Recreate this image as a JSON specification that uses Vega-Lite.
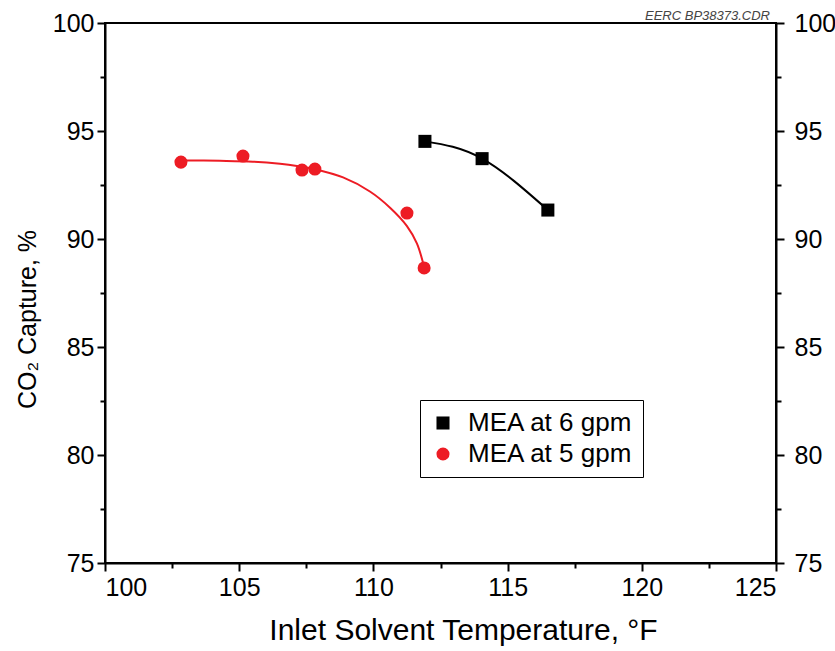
{
  "$schema": "https://vega.github.io/schema/vega-lite/v6.json",
  "autosize": {"type": "none"},
  "padding": {"left": 105, "top": 23, "right": 59, "bottom": 88},
  "width": 671,
  "height": 540,
  "background": "white",
  "title": {"text": "EERC BP38373.CDR", "anchor": "end", "frame": "group", "fontSize": 13, "fontStyle": "italic", "fontWeight": "normal", "font": "Liberation Sans", "color": "#444444", "offset": 3, "dx": -6, "dy": 15},
  "view": {"stroke": "black", "strokeWidth": 2},
  "config": {
    "font": "Liberation Sans",
    "axis": {"grid": false, "domainColor": "black", "domainWidth": 2, "tickColor": "black", "tickWidth": 2, "labelFont": "Liberation Sans", "labelFontSize": 25, "labelColor": "black", "titleFont": "Liberation Sans", "titleFontWeight": "normal", "titleColor": "black"},
    "legend": {"labelFont": "Liberation Sans", "labelFontSize": 26, "labelColor": "black", "labelLimit": 400}
  },
  "datasets": {
    "curves": [
      {"series": "MEA at 5 gpm", "temp": 102.83, "capture": 93.64},
      {"series": "MEA at 5 gpm", "temp": 104.28, "capture": 93.62},
      {"series": "MEA at 5 gpm", "temp": 105.51, "capture": 93.58},
      {"series": "MEA at 5 gpm", "temp": 106.52, "capture": 93.48},
      {"series": "MEA at 5 gpm", "temp": 107.15, "capture": 93.38},
      {"series": "MEA at 5 gpm", "temp": 107.82, "capture": 93.23},
      {"series": "MEA at 5 gpm", "temp": 108.87, "capture": 92.85},
      {"series": "MEA at 5 gpm", "temp": 109.87, "capture": 92.2},
      {"series": "MEA at 5 gpm", "temp": 110.62, "capture": 91.45},
      {"series": "MEA at 5 gpm", "temp": 111.25, "capture": 90.6},
      {"series": "MEA at 5 gpm", "temp": 111.62, "capture": 89.8},
      {"series": "MEA at 5 gpm", "temp": 111.89, "capture": 88.7},
      {"series": "MEA at 6 gpm", "temp": 111.92, "capture": 94.52},
      {"series": "MEA at 6 gpm", "temp": 114.05, "capture": 93.72},
      {"series": "MEA at 6 gpm", "temp": 116.5, "capture": 91.34}
    ],
    "points": [
      {"series": "MEA at 5 gpm", "temp": 102.83, "capture": 93.56},
      {"series": "MEA at 5 gpm", "temp": 105.14, "capture": 93.84},
      {"series": "MEA at 5 gpm", "temp": 107.34, "capture": 93.19},
      {"series": "MEA at 5 gpm", "temp": 107.82, "capture": 93.24},
      {"series": "MEA at 5 gpm", "temp": 111.25, "capture": 91.2},
      {"series": "MEA at 5 gpm", "temp": 111.89, "capture": 88.66},
      {"series": "MEA at 6 gpm", "temp": 111.92, "capture": 94.52},
      {"series": "MEA at 6 gpm", "temp": 114.05, "capture": 93.72},
      {"series": "MEA at 6 gpm", "temp": 116.5, "capture": 91.34}
    ]
  },
  "layer": [
    {
      "data": {"name": "curves"},
      "transform": [{"filter": "datum.series === 'MEA at 5 gpm'"}],
      "mark": {"type": "line", "color": "#ed1c24", "strokeWidth": 2, "interpolate": "catmull-rom"},
      "encoding": {
        "x": {"field": "temp", "type": "quantitative", "scale": {"domain": [100, 125], "nice": false, "zero": false},
          "axis": {"title": "Inlet Solvent Temperature, °F", "titleFontSize": 30, "titleX": 358, "values": [100, 102.5, 105, 107.5, 110, 112.5, 115, 117.5, 120, 122.5, 125], "format": "d", "labelExpr": "datum.value % 5 === 0 ? datum.label : ''", "tickSize": {"condition": {"test": "datum.value % 5 === 0", "value": 8}, "value": 5}, "labelPadding": 4, "titlePadding": 15}},
        "y": {"field": "capture", "type": "quantitative", "scale": {"domain": [75, 100], "nice": false, "zero": false},
          "axis": {"orient": "left", "title": "CO₂ Capture, %", "titleFontSize": 25, "titleY": 296, "values": [75, 77.5, 80, 82.5, 85, 87.5, 90, 92.5, 95, 97.5, 100], "format": "d", "labelExpr": "datum.value % 5 === 0 ? datum.label : ''", "tickSize": {"condition": {"test": "datum.value % 5 === 0", "value": 8}, "value": 5}, "labelPadding": 3, "titlePadding": 12}}
      }
    },
    {
      "data": {"name": "curves"},
      "transform": [{"filter": "datum.series === 'MEA at 6 gpm'"}],
      "mark": {"type": "line", "color": "black", "strokeWidth": 2, "interpolate": "natural"},
      "encoding": {
        "x": {"field": "temp", "type": "quantitative"},
        "y": {"field": "capture", "type": "quantitative",
          "axis": {"orient": "right", "title": null, "values": [75, 77.5, 80, 82.5, 85, 87.5, 90, 92.5, 95, 97.5, 100], "format": "d", "labelExpr": "datum.value % 5 === 0 ? datum.label : ''", "tickSize": {"condition": {"test": "datum.value % 5 === 0", "value": 8}, "value": 5}, "labelPadding": 10}}
      }
    },
    {
      "data": {"name": "points"},
      "mark": {"type": "point", "filled": true, "opacity": 1, "strokeWidth": 0},
      "encoding": {
        "x": {"field": "temp", "type": "quantitative"},
        "y": {"field": "capture", "type": "quantitative", "axis": null},
        "color": {"field": "series", "type": "nominal", "scale": {"domain": ["MEA at 6 gpm", "MEA at 5 gpm"], "range": ["black", "#ed1c24"]},
          "legend": {"title": null, "orient": "none", "legendX": 315, "legendY": 377, "padding": 10, "strokeColor": "black", "fillColor": "white", "symbolSize": 170, "symbolStrokeWidth": 0, "rowPadding": 5, "labelOffset": 12, "labelFontSize": 26, "labelLimit": 400}},
        "shape": {"field": "series", "type": "nominal", "scale": {"domain": ["MEA at 6 gpm", "MEA at 5 gpm"], "range": ["square", "circle"]}},
        "size": {"value": 170}
      }
    }
  ],
  "resolve": {"axis": {"y": "independent"}}
}
